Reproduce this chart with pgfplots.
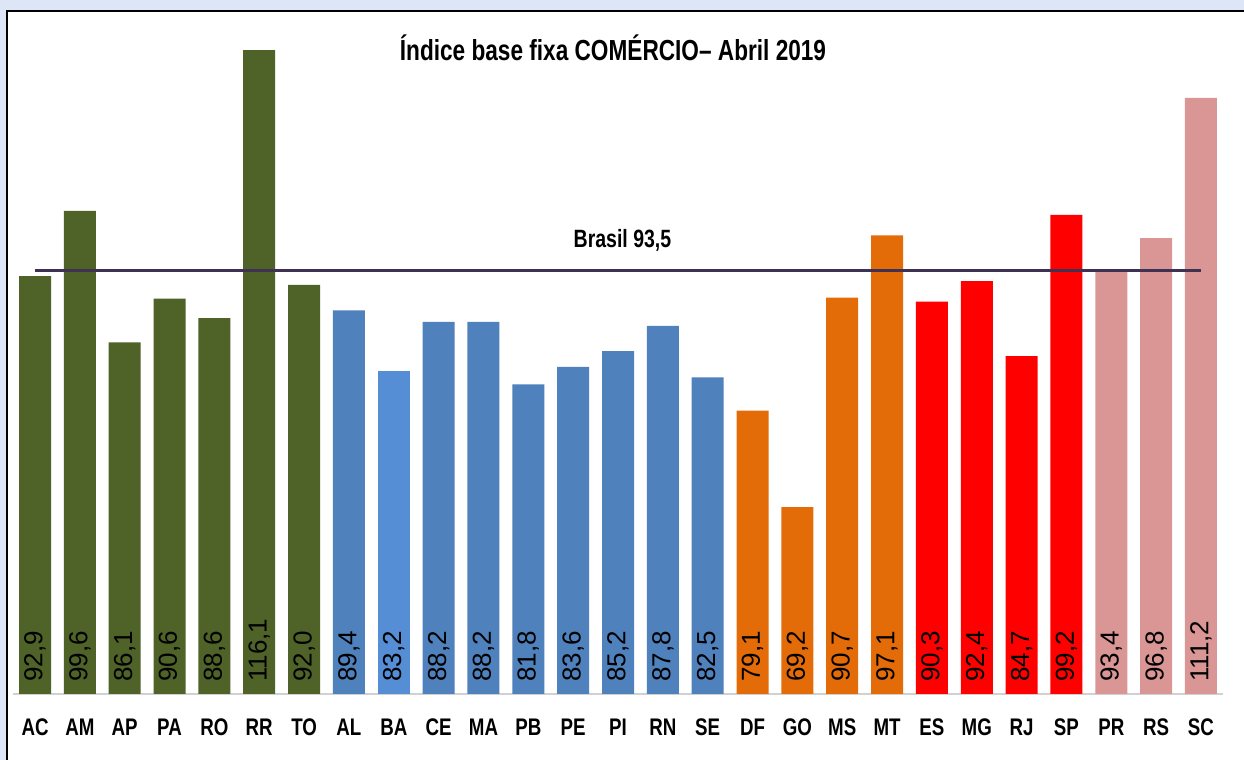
\documentclass[border=0pt]{standalone}
\usepackage{pgfplots}
\pgfplotsset{compat=1.18}
\usepackage{pgfplotstable}
\usepackage{fontspec}
\setmainfont{Liberation Sans}[FakeStretch=0.78]
\newfontfamily\reg{Liberation Sans}
\definecolor{bgblue}{HTML}{DCE6F6}
\definecolor{cgreen}{HTML}{4F6228}
\definecolor{cblue}{HTML}{4F81BD}
\definecolor{cblueb}{HTML}{558ED5}
\definecolor{corange}{HTML}{E36C09}
\definecolor{cred}{HTML}{FF0000}
\definecolor{cpink}{HTML}{D99694}
\definecolor{cline}{HTML}{3F3151}

\pgfplotstableread{
x y lab
0 92.9 92,9
1 99.6 99,6
2 86.1 86,1
3 90.6 90,6
4 88.6 88,6
5 116.1 116,1
6 92.0 92,0
}\tgreen
\pgfplotstableread{
x y lab
7 89.4 89,4
9 88.2 88,2
10 88.2 88,2
11 81.8 81,8
12 83.6 83,6
13 85.2 85,2
14 87.8 87,8
15 82.5 82,5
}\tblue
\pgfplotstableread{
x y lab
8 83.2 83,2
}\tblueb
\pgfplotstableread{
x y lab
16 79.1 79,1
17 69.2 69,2
18 90.7 90,7
19 97.1 97,1
}\torange
\pgfplotstableread{
x y lab
20 90.3 90,3
21 92.4 92,4
22 84.7 84,7
23 99.2 99,2
}\tred
\pgfplotstableread{
x y lab
24 93.4 93,4
25 96.8 96,8
26 111.2 111,2
}\tpink

\pgfplotsset{barlab/.style={draw=none, mark=none, sharp plot, nodes near coords, point meta=explicit symbolic,
  every node near coord/.style={font=\reg\fontsize{13}{13}\selectfont, rotate=90, anchor=west, inner sep=0pt}}}

\begin{document}
\begin{tikzpicture}
\fill[bgblue] (0,0) rectangle (622pt,380pt);
\fill[white] (3.5pt,-5pt) rectangle (630pt,374.5pt);
\draw[black, line width=1.3pt] (3.5pt,-5pt) -- (3.5pt,374.5pt) -- (630pt,374.5pt);
\begin{axis}[
  at={(6.3pt,33pt)}, anchor=south west,
  scale only axis,
  width=605.4pt, height=347.2pt,
  xmin=-0.5, xmax=26.5, ymin=50, ymax=121.3,
  axis x line=bottom, axis y line=none,
  x axis line style={draw=black!18, line width=1pt, -},
  xtick={0,...,26},
  xticklabels={AC,AM,AP,PA,RO,RR,TO,AL,BA,CE,MA,PB,PE,PI,RN,SE,DF,GO,MS,MT,ES,MG,RJ,SP,PR,RS,SC},
  xticklabel style={font=\bfseries\fontsize{12}{12}\selectfont, anchor=base, yshift=-21pt},
  major tick length=0pt,
  ybar, bar width=16pt, bar shift=0pt,
  clip=false,
]
\addplot[fill=cgreen, draw=none] table[x=x,y=y] {\tgreen};
\addplot[fill=cblue, draw=none] table[x=x,y=y] {\tblue};
\addplot[fill=cblueb, draw=none] table[x=x,y=y] {\tblueb};
\addplot[fill=corange, draw=none] table[x=x,y=y] {\torange};
\addplot[fill=cred, draw=none] table[x=x,y=y] {\tred};
\addplot[fill=cpink, draw=none] table[x=x,y=y] {\tpink};
\addplot[barlab] table[x=x, y expr=51.2, meta=lab] {\tgreen};
\addplot[barlab] table[x=x, y expr=51.2, meta=lab] {\tblue};
\addplot[barlab] table[x=x, y expr=51.2, meta=lab] {\tblueb};
\addplot[barlab] table[x=x, y expr=51.2, meta=lab] {\torange};
\addplot[barlab] table[x=x, y expr=51.2, meta=lab] {\tred};
\addplot[barlab] table[x=x, y expr=51.2, meta=lab] {\tpink};
\addplot[sharp plot, cline, line width=1.6pt, mark=none] coordinates {(0,93.5) (26,93.5)};
\node[font=\bfseries\fontsize{12.5}{12.5}\selectfont] at (axis cs:13.1,96.6) {Brasil 93,5};
\end{axis}
\node[font=\bfseries\fontsize{14.5}{14.5}\selectfont] at (306.5pt,356pt) {Índice base fixa COMÉRCIO– Abril 2019};
\pgfresetboundingbox
\path (0,0) rectangle (622pt,380pt);
\end{tikzpicture}
\end{document}
